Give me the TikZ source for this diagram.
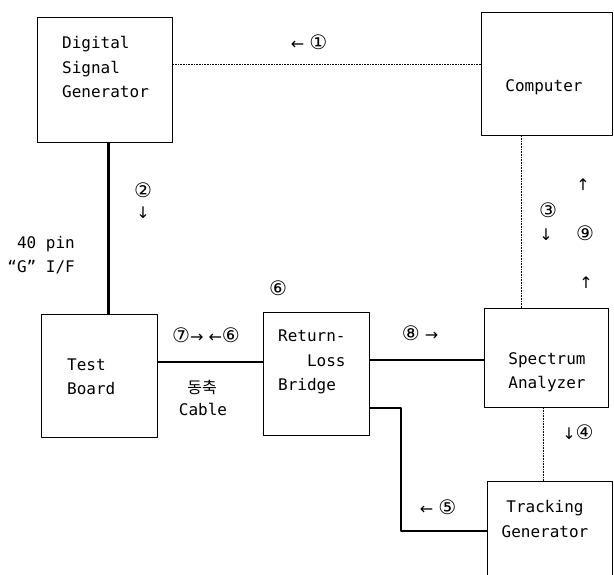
\documentclass[tikz,border=0pt]{standalone}
\usepackage{fontspec}
\setmonofont{DejaVu Sans Mono}
\newfontfamily\symfont{DejaVu Sans}
\newfontfamily\kofont{Noto Sans CJK KR}
\usetikzlibrary{positioning}
\newcommand{\cnum}[1]{{\fontsize{20}{20}\selectfont #1}}

\begin{document}
\begin{tikzpicture}[x=1pt, y=-1pt, line join=round,
  box/.style={draw, line width=1.2pt, inner sep=0pt, anchor=north west},
  txt/.style={font=\ttfamily\fontsize{16}{24.5}\selectfont, inner sep=0pt},
  num/.style={font=\symfont\fontsize{16}{20}\selectfont, inner sep=0pt},
  wire/.style={line width=1.5pt},
  bus/.style={line width=3pt},
  signal/.style={line width=0.6pt, densely dotted}]
  \useasboundingbox (0,0) rectangle (614,575);
  \clip (0,0) rectangle (614,575);
  % units
  \node[box, minimum width=135, minimum height=125] (dsg) at (37,17) {};
  \node[box, minimum width=131, minimum height=123] (comp) at (481,12) {};
  \node[box, minimum width=116, minimum height=123] (tb) at (41,314) {};
  \node[box, minimum width=106, minimum height=123] (rlb) at (263,312) {};
  \node[box, minimum width=124, minimum height=99] (sa) at (484,308) {};
  \node[box, minimum width=125, minimum height=120] (tg) at (487,481) {};
  % unit texts
  \node[txt, align=left, anchor=west] (dsgtxt) at (62,67) {Digital\\Signal\\Generator};
  \node[txt] (comptxt) at (544,87) {Computer};
  \node[txt, align=left, anchor=west] (tbtxt) at (67,377) {Test\\Board};
  \node[txt, align=left, anchor=west] (rlbtxt) at (278,362) {Return-\\\phantom{Ret}Loss\\Bridge};
  \node[txt, align=center] (satxt) at (547,372) {Spectrum\\Analyzer};
  \node[txt, align=center] (tgtxt) at (545,519) {Tracking\\Generator};
  % connections
  \coordinate (p1) at ([yshift=-47pt]dsg.north east);
  \draw[signal] (p1) -- (comp.west |- p1);
  \draw[bus] ([xshift=71pt]dsg.south west) -- ([xshift=67pt]tb.north west);
  \coordinate (p2) at ([yshift=-48pt]tb.north east);
  \draw[wire] (p2) -- (rlb.west |- p2);
  \coordinate (p3) at ([yshift=-48pt]rlb.north east);
  \draw[wire] (p3) -- (sa.west |- p3);
  \coordinate (p4) at ([yshift=-96pt]rlb.north east);
  \coordinate (p5) at ([yshift=-50pt]tg.north west);
  \draw[wire] (p4) -- ++(31,0) |- (p5);
  \draw[signal] ([xshift=40pt]comp.south west) -- ([xshift=37pt]sa.north west);
  \draw[signal] ([xshift=59pt]sa.south west) -- ([xshift=56pt]tg.north west);
  % signal numbers
  \node[num] (n1) at (309,42) {← \cnum{①}};
  \node[num] (n2) at (143,190) {\cnum{②}};
  \node[num] (n2a) at (143,213) {↓};
  \node[txt, align=right, anchor=east] (pin) at (75,255) {40 pin\\“G” I/F};
  \node[num] (n6) at (278,288) {\cnum{⑥}};
  \node[num] (n76) at (206,335) {\cnum{⑦}→ ←\cnum{⑥}};
  \node[font=\kofont\fontsize{16}{20}\selectfont, inner sep=0pt] (coax) at (202,387) {동축};
  \node[txt] (cable) at (203,409) {Cable};
  \node[num] (n8) at (420,333) {\cnum{⑧} →};
  \node[num] (n3) at (548,210) {\cnum{③}};
  \node[num] (n3a) at (546,235) {↓};
  \node[num] (n9a) at (583,185) {↑};
  \node[num] (n9) at (585,233) {\cnum{⑨}};
  \node[num] (n9b) at (586,283) {↑};
  \node[num] (n4) at (578,432) {↓\cnum{④}};
  \node[num] (n5) at (438,507) {← \cnum{⑤}};
\end{tikzpicture}
\end{document}
